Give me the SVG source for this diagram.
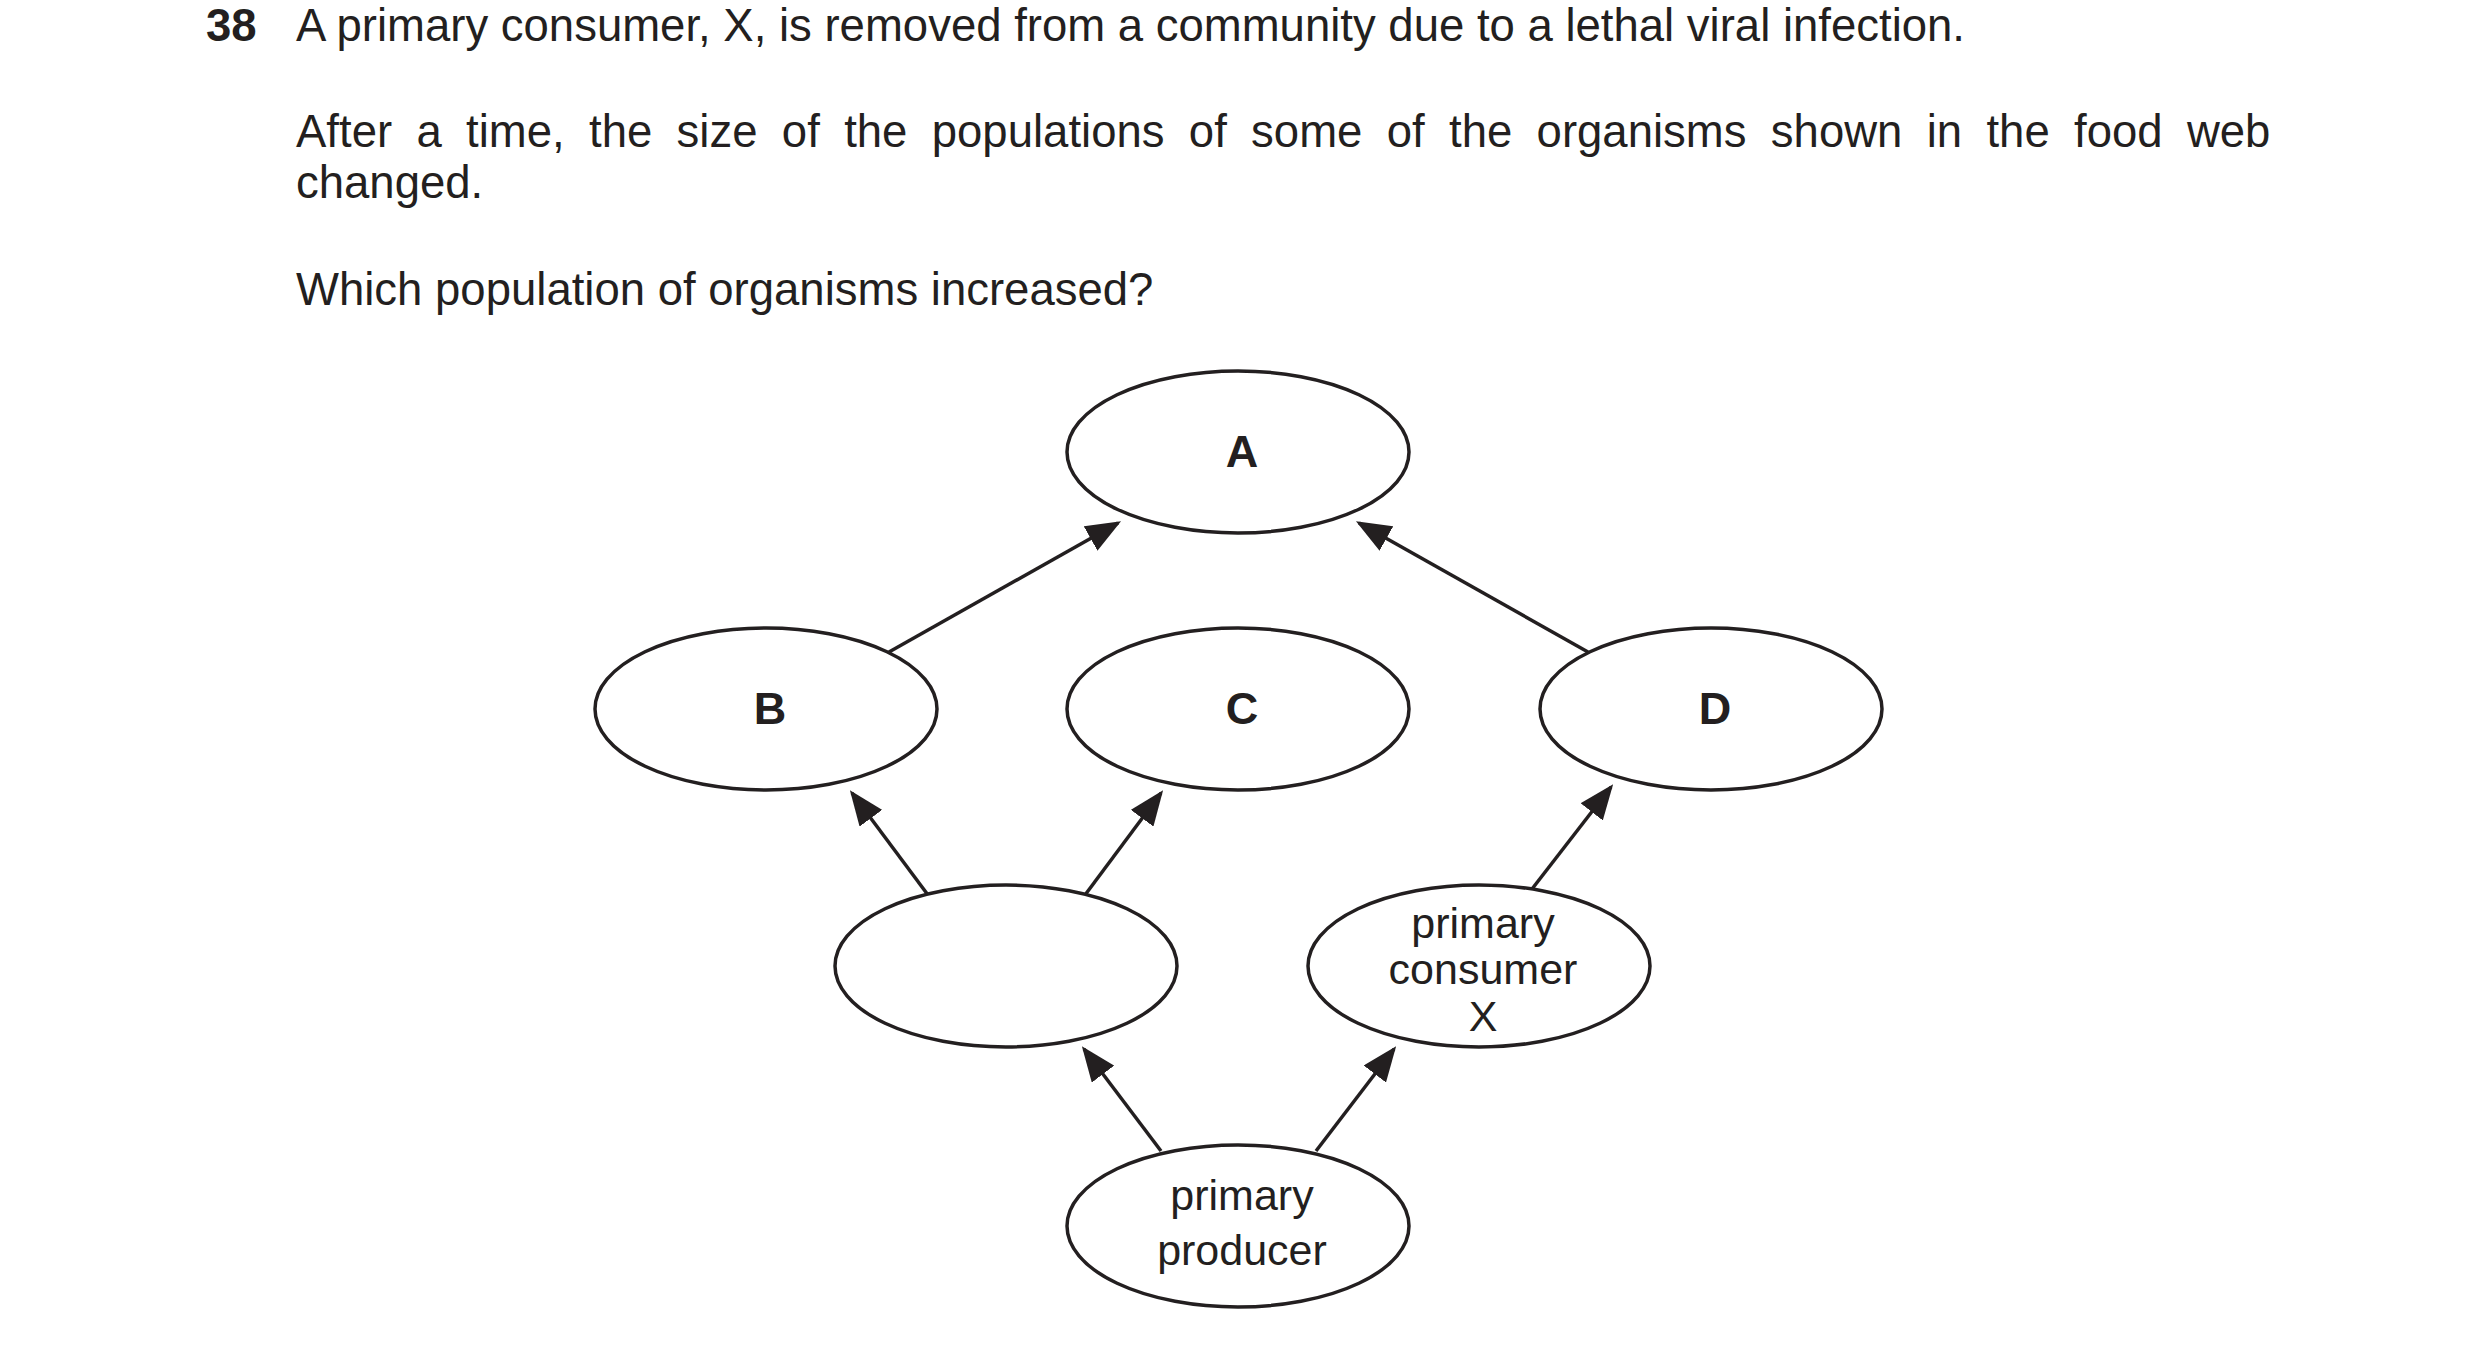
<svg xmlns="http://www.w3.org/2000/svg" width="2480" height="1348" viewBox="0 0 2480 1348">
<style>
text{font-family:"Liberation Sans",Arial,sans-serif;fill:#231f20}
.q{font-size:45.5px}
.b{font-weight:bold}
.l{font-size:43px;text-anchor:middle}
.lb{font-size:45px;text-anchor:middle;font-weight:bold}
ellipse{fill:#fff;stroke:#231f20;stroke-width:3.5}
line{stroke:#231f20;stroke-width:3.5;marker-end:url(#ah)}
</style>
<defs><marker id="ah" markerWidth="10" markerHeight="8" refX="9" refY="4" orient="auto" markerUnits="strokeWidth"><path d="M0,0L10,4L0,8z" fill="#231f20"/></marker></defs>
<rect width="2480" height="1348" fill="#fff"/>
<text class="q b" x="206" y="41">38</text>
<text class="q" x="296" y="41">A primary consumer, X, is removed from a community due to a lethal viral infection.</text>
<text class="q" x="296" y="147" word-spacing="11.7">After a time, the size of the populations of some of the organisms shown in the food web</text>
<text class="q" x="296" y="198">changed.</text>
<text class="q" x="296" y="305">Which population of organisms increased?</text>
<g id="connectors">
<line x1="889" y1="652" x2="1118" y2="523"/>
<line x1="1588" y1="652" x2="1359" y2="523"/>
<line x1="928" y1="895" x2="852" y2="793"/>
<line x1="1085" y1="895" x2="1161" y2="793"/>
<line x1="1532" y1="889" x2="1611" y2="787"/>
<line x1="1161" y1="1151" x2="1084" y2="1049"/>
<line x1="1316" y1="1151" x2="1394" y2="1049"/>
</g>
<g id="A"><ellipse cx="1238" cy="452" rx="171" ry="81"/><text class="lb" x="1242" y="467">A</text></g>
<g id="B"><ellipse cx="766" cy="709" rx="171" ry="81"/><text class="lb" x="770" y="724">B</text></g>
<g id="C"><ellipse cx="1238" cy="709" rx="171" ry="81"/><text class="lb" x="1242" y="724">C</text></g>
<g id="D"><ellipse cx="1711" cy="709" rx="171" ry="81"/><text class="lb" x="1715" y="724">D</text></g>
<g id="empty"><ellipse cx="1006" cy="966" rx="171" ry="81"/></g>
<g id="X"><ellipse cx="1479" cy="966" rx="171" ry="81"/><text class="l" x="1483" y="938">primary</text><text class="l" x="1483" y="984">consumer</text><text class="l" x="1483" y="1031">X</text></g>
<g id="producer"><ellipse cx="1238" cy="1226" rx="171" ry="81"/><text class="l" x="1242" y="1210">primary</text><text class="l" x="1242" y="1265">producer</text></g>
</svg>
